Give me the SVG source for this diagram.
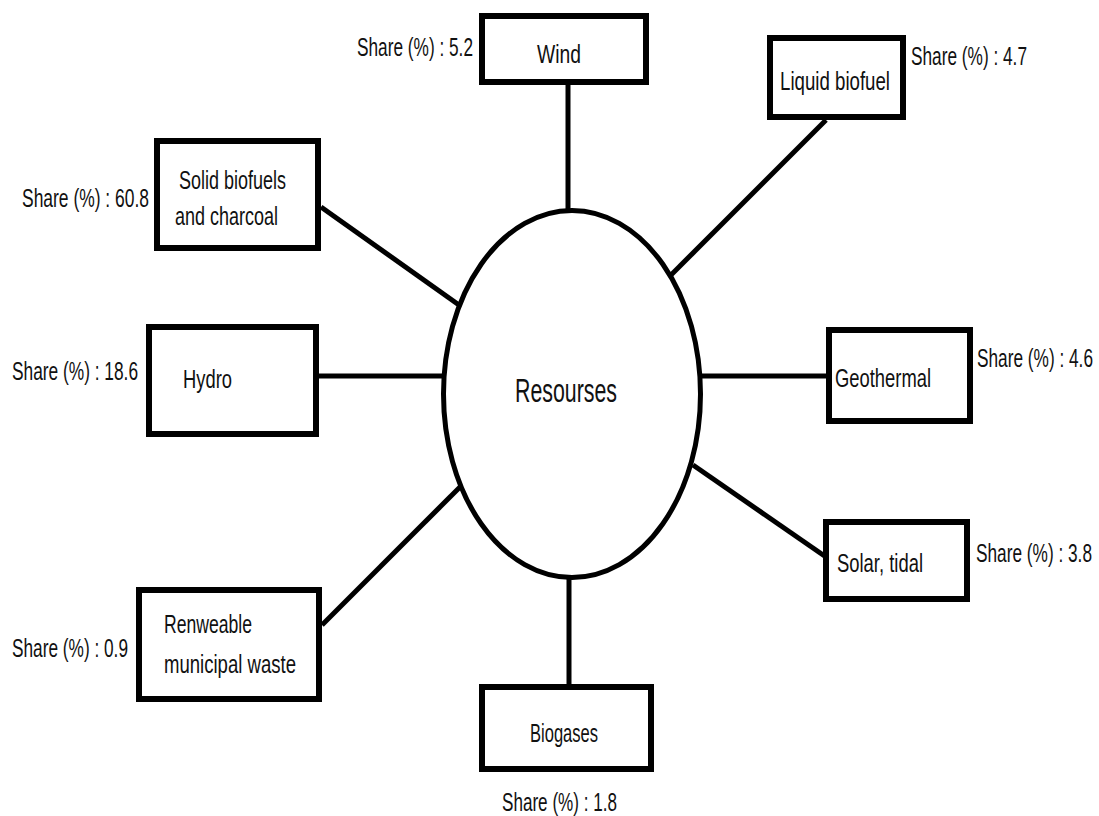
<svg xmlns="http://www.w3.org/2000/svg" width="1099" height="816" viewBox="0 0 1099 816">
<style>
.box{fill:#fff;stroke:#000;stroke-width:6}
.hub{fill:#fff;stroke:#000;stroke-width:5}
.con{stroke:#000;stroke-width:5;fill:none;stroke-linecap:butt}
text{font-family:"Liberation Sans",Arial,sans-serif;font-size:26px;fill:#111}
.big{font-size:33px}
</style>
<rect width="1099" height="816" fill="#fff"/>
<g id="connectors">
<line class="con" x1="568" y1="85" x2="568" y2="212"/>
<line class="con" x1="826" y1="120" x2="670" y2="276"/>
<line class="con" x1="321" y1="207" x2="459" y2="305"/>
<line class="con" x1="319" y1="376" x2="444" y2="376"/>
<line class="con" x1="700" y1="376" x2="826" y2="376"/>
<line class="con" x1="693" y1="465" x2="826" y2="557"/>
<line class="con" x1="322" y1="625" x2="460" y2="487"/>
<line class="con" x1="569" y1="578" x2="569" y2="684"/>
</g>
<g id="resources">
<ellipse class="hub" cx="572" cy="394" rx="128.5" ry="183.5"/>
<text class="big" x="515" y="402" textLength="102" lengthAdjust="spacingAndGlyphs">Resourses</text>
</g>
<g id="wind">
<rect class="box" x="482" y="16" width="164" height="66"/>
<text x="537" y="63" textLength="44" lengthAdjust="spacingAndGlyphs">Wind</text>
<text x="357" y="56" textLength="116" lengthAdjust="spacingAndGlyphs">Share (%) : 5.2</text>
</g>
<g id="liquid-biofuel">
<rect class="box" x="770" y="38" width="133" height="79"/>
<text x="780" y="90" textLength="110" lengthAdjust="spacingAndGlyphs">Liquid biofuel</text>
<text x="911" y="65" textLength="116" lengthAdjust="spacingAndGlyphs">Share (%) : 4.7</text>
</g>
<g id="solid-biofuels">
<rect class="box" x="157" y="141" width="161" height="107"/>
<text x="179" y="189" textLength="107" lengthAdjust="spacingAndGlyphs">Solid biofuels</text>
<text x="175" y="225" textLength="103" lengthAdjust="spacingAndGlyphs">and charcoal</text>
<text x="22" y="207" textLength="127" lengthAdjust="spacingAndGlyphs">Share (%) : 60.8</text>
</g>
<g id="hydro">
<rect class="box" x="149" y="327" width="167" height="107"/>
<text x="183" y="388" textLength="49" lengthAdjust="spacingAndGlyphs">Hydro</text>
<text x="12" y="380" textLength="126" lengthAdjust="spacingAndGlyphs">Share (%) : 18.6</text>
</g>
<g id="geothermal">
<rect class="box" x="829" y="330" width="141" height="91"/>
<text x="835" y="387" textLength="96" lengthAdjust="spacingAndGlyphs">Geothermal</text>
<text x="977" y="367" textLength="116" lengthAdjust="spacingAndGlyphs">Share (%) : 4.6</text>
</g>
<g id="solar-tidal">
<rect class="box" x="826" y="522" width="141" height="77"/>
<text x="837" y="572" textLength="86" lengthAdjust="spacingAndGlyphs">Solar, tidal</text>
<text x="976" y="562" textLength="116" lengthAdjust="spacingAndGlyphs">Share (%) : 3.8</text>
</g>
<g id="municipal-waste">
<rect class="box" x="139" y="590" width="180" height="109"/>
<text x="164" y="633" textLength="88" lengthAdjust="spacingAndGlyphs">Renweable</text>
<text x="164" y="673" textLength="132" lengthAdjust="spacingAndGlyphs">municipal waste</text>
<text x="12" y="657" textLength="116" lengthAdjust="spacingAndGlyphs">Share (%) : 0.9</text>
</g>
<g id="biogases">
<rect class="box" x="482" y="687" width="169" height="82"/>
<text x="530" y="742" textLength="68" lengthAdjust="spacingAndGlyphs">Biogases</text>
<text x="502" y="811" textLength="115" lengthAdjust="spacingAndGlyphs">Share (%) : 1.8</text>
</g>
</svg>
